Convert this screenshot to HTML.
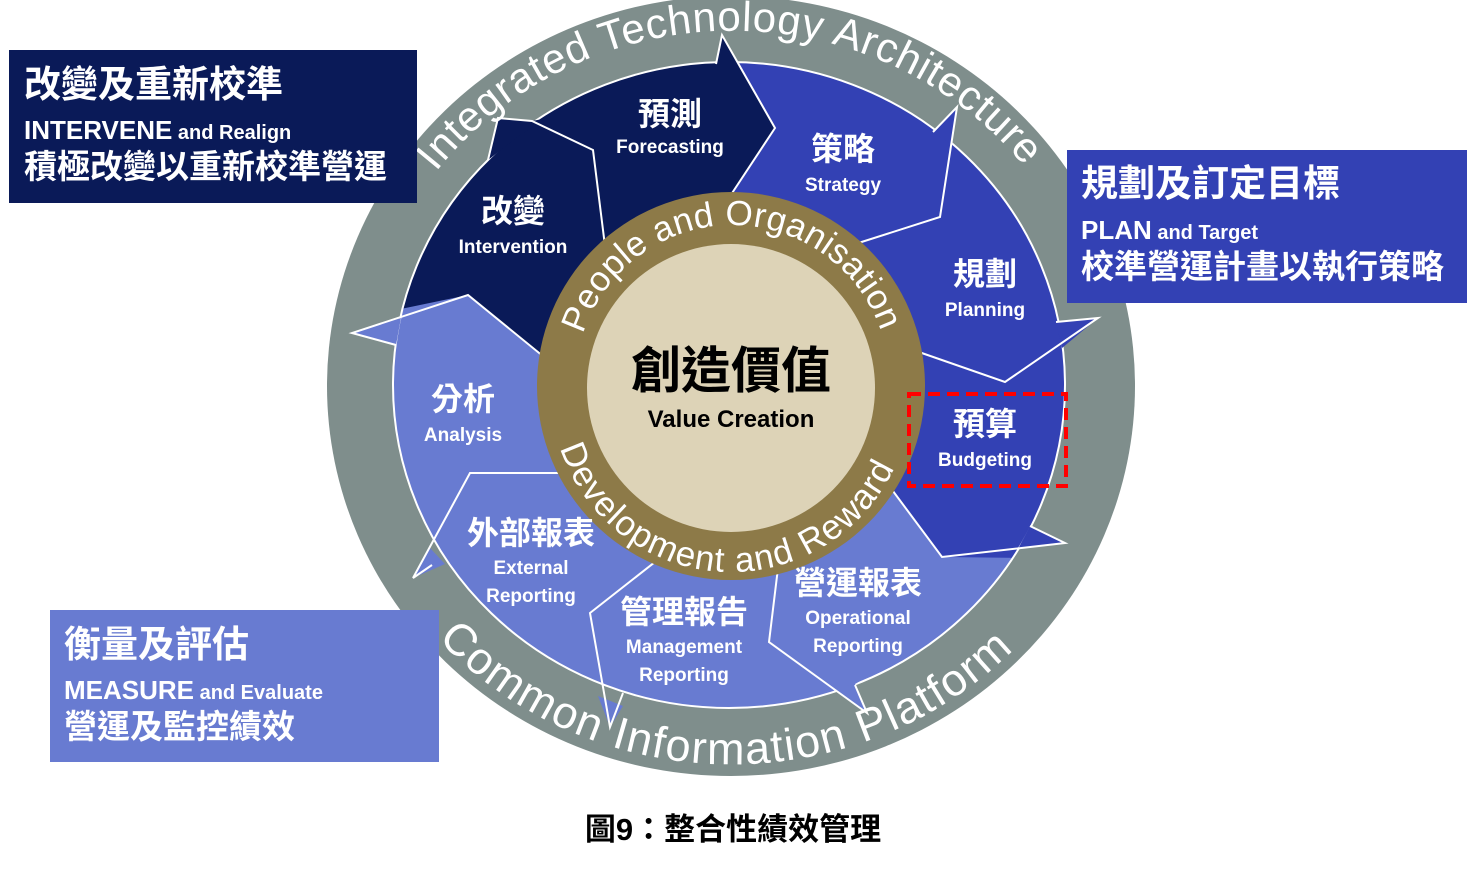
<!DOCTYPE html>
<html><head><meta charset="utf-8"><style>
html,body{margin:0;padding:0;background:#fff;}
svg{display:block;}
text{font-family:"Liberation Sans","Noto Sans CJK TC",sans-serif;}
.w{fill:#fff;font-weight:bold;text-anchor:middle;}
.c{font-size:32px;}
.e{font-size:19px;}
</style></head><body>
<svg width="1467" height="871" viewBox="0 0 1467 871" xmlns="http://www.w3.org/2000/svg">
<defs>
<path id="pTop" d="M 436,172 A 374 362 0 0 1 1049,200"/>
<path id="pBot" d="M 438,639 A 394 378 0 0 0 1024,639"/>
<path id="gTop" d="M 583,334 A 157 157 0 0 1 885,345"/>
<path id="gBot" d="M 560,448 A 180 180 0 0 0 904,442"/>
<clipPath id="cl"><ellipse cx="729" cy="385" rx="336" ry="323"/></clipPath>
</defs>
<!-- gray ring -->
<ellipse cx="731" cy="386" rx="404" ry="390" fill="#7f8e8c"/>
<!-- light blue base -->
<ellipse cx="729" cy="385" rx="336" ry="323" fill="#687bd1"/>
<g clip-path="url(#cl)">
<path fill="#3341b4" d="M 722,35 L 775,128 L 713,222 L 731,388 L 887,483 L 942,557 L 1200,560 L 1200,0 L 722,0 Z"/>
<path fill="#0a1a58" d="M 560,370 L 468,295 L 300,330 L 300,0 L 722,0 L 722,35 L 775,128 L 713,222 L 731,388 Z"/>
</g>
<ellipse cx="729" cy="385" rx="336" ry="323" fill="none" stroke="#fff" stroke-width="2"/>
<!-- arrow tips poking into the gray ring -->
<polygon fill="#0a1a58" points="488,160 498,118 532,121 548,118 520,135"/>
<polygon fill="#0a1a58" points="716,64 722,35 740,66"/>
<polygon fill="#3341b4" points="933,132 957,107 952,145"/>
<polygon fill="#3341b4" points="1056,322 1098,318 1062,348"/>
<polygon fill="#3341b4" points="1030,526 1065,543 1018,549"/>
<polygon fill="#687bd1" points="401,318 352,333 396,345"/>
<polygon fill="#687bd1" points="430,548 413,578 445,564"/>
<polygon fill="#687bd1" points="598,696 610,727 623,706"/>
<polygon fill="#687bd1" points="836,690 867,713 855,684 862,680"/>
<!-- white boundary lines -->
<g fill="none" stroke="#fff" stroke-width="2" stroke-linejoin="miter">
<polyline points="396,345 352,333 468,295 560,370"/>
<polyline points="488,160 498,118 532,121 593,150 607,262"/>
<polyline points="716,64 722,35 775,128 713,222"/>
<polyline points="933,132 957,107 940,217 827,253"/>
<polyline points="1056,322 1098,318 1005,382 893,343"/>
<polyline points="1030,526 1065,543 942,557 887,483"/>
<polyline points="782,535 769,642 867,713 855,685"/>
<polyline points="683,540 590,613 610,727 623,693"/>
<polyline points="560,473 470,473 413,578 432,565"/>
</g>
<!-- gold ring + center -->
<circle cx="731" cy="386" r="194" fill="#8d7a48"/>
<circle cx="731" cy="388" r="144" fill="#ddd3b7"/>
<!-- ring texts -->
<text font-size="42" fill="#fff"><textPath href="#pTop" textLength="672" lengthAdjust="spacing">Integrated Technology Architecture</textPath></text>
<text font-size="45" fill="#fff"><textPath href="#pBot" textLength="640" lengthAdjust="spacing">Common Information Platform</textPath></text>
<text font-size="35" fill="#fff"><textPath href="#gTop" textLength="392" lengthAdjust="spacing">People and Organisation</textPath></text>
<text font-size="35" fill="#fff"><textPath href="#gBot" textLength="430" lengthAdjust="spacing">Development and Reward</textPath></text>
<!-- center -->
<text x="731" y="388" font-size="50" font-weight="bold" text-anchor="middle" fill="#000">創造價值</text>
<text x="731" y="427" font-size="24" font-weight="bold" text-anchor="middle" fill="#000">Value Creation</text>
<!-- labels -->
<text class="w c" x="670" y="125">預測</text><text class="w e" x="670" y="153">Forecasting</text>
<text class="w c" x="513" y="222">改變</text><text class="w e" x="513" y="253">Intervention</text>
<text class="w c" x="843" y="160">策略</text><text class="w e" x="843" y="191">Strategy</text>
<text class="w c" x="985" y="285">規劃</text><text class="w e" x="985" y="316">Planning</text>
<text class="w c" x="985" y="435">預算</text><text class="w e" x="985" y="466">Budgeting</text>
<text class="w c" x="463" y="410">分析</text><text class="w e" x="463" y="441">Analysis</text>
<text class="w c" x="531" y="544">外部報表</text><text class="w e" x="531" y="574">External</text><text class="w e" x="531" y="602">Reporting</text>
<text class="w c" x="684" y="623">管理報告</text><text class="w e" x="684" y="653">Management</text><text class="w e" x="684" y="681">Reporting</text>
<text class="w c" x="858" y="594">營運報表</text><text class="w e" x="858" y="624">Operational</text><text class="w e" x="858" y="652">Reporting</text>
<!-- red dashed box -->
<rect x="909" y="394" width="157" height="92" fill="none" stroke="#ff0000" stroke-width="4" stroke-dasharray="12,7"/>
<!-- side boxes -->
<rect x="9" y="50" width="408" height="153" fill="#0a1a58"/>
<text x="24" y="97" font-size="37" font-weight="bold" fill="#fff">改變及重新校準</text>
<text x="24" y="139" font-weight="bold" fill="#fff"><tspan font-size="26">INTERVENE</tspan><tspan font-size="20"> and Realign</tspan></text>
<text x="24" y="178" font-size="33" font-weight="bold" fill="#fff">積極改變以重新校準營運</text>
<rect x="1067" y="150" width="400" height="153" fill="#3341b4"/>
<text x="1081" y="196" font-size="37" font-weight="bold" fill="#fff">規劃及訂定目標</text>
<text x="1081" y="239" font-weight="bold" fill="#fff"><tspan font-size="26">PLAN</tspan><tspan font-size="20"> and Target</tspan></text>
<text x="1081" y="278" font-size="33" font-weight="bold" fill="#fff">校準營運計畫以執行策略</text>
<rect x="50" y="610" width="389" height="152" fill="#687bd1"/>
<text x="64" y="657" font-size="37" font-weight="bold" fill="#fff">衡量及評估</text>
<text x="64" y="699" font-weight="bold" fill="#fff"><tspan font-size="26">MEASURE</tspan><tspan font-size="20"> and Evaluate</tspan></text>
<text x="64" y="738" font-size="33" font-weight="bold" fill="#fff">營運及監控績效</text>
<!-- caption -->
<text x="733" y="840" font-size="31" font-weight="bold" text-anchor="middle" fill="#000">圖9：整合性績效管理</text>
</svg>
</body></html>
